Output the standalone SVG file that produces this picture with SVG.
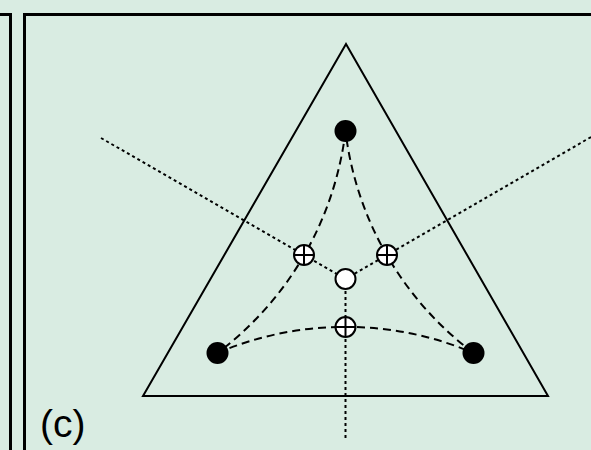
<svg xmlns="http://www.w3.org/2000/svg" width="591" height="450" viewBox="0 0 591 450">
<style>
.frame{fill:none;stroke:#000;stroke-width:3}
.tri{fill:none;stroke:#000;stroke-width:2;stroke-linejoin:miter}
.dot{fill:none;stroke:#000;stroke-width:2;stroke-dasharray:3 3}
.dash{fill:none;stroke:#000;stroke-width:2;stroke-dasharray:8 5}
.black{fill:#000}
.open{fill:#fff;stroke:#000;stroke-width:2}
.lbl{font-family:"Liberation Sans",Arial,sans-serif;font-size:39px;fill:#000}
</style>
<rect width="591" height="450" fill="#d9ece2"/>
<g id="frames">
<polyline class="frame" points="0,14.5 10.5,14.5 10.5,450"/>
<polyline class="frame" points="24.5,450 24.5,14.5 591,14.5"/>
</g>
<g id="triangle"><polygon class="tri" points="346,44 143,396 548,396"/></g>
<g id="connectors">
<line class="dot" x1="101" y1="138" x2="345.5" y2="279"/>
<line class="dot" x1="591" y1="137" x2="345.5" y2="279"/>
<line class="dot" x1="345.5" y1="279" x2="345.5" y2="438"/>
<path class="dash" d="M217.5,353 A326,326 0 0 1 473.5,353"/>
<path class="dash" d="M345.5,131 A326,326 0 0 1 217.5,353"/>
<path class="dash" d="M473.5,353 A326,326 0 0 1 345.5,131"/>
</g>
<g id="dot-top"><circle class="black" cx="345.5" cy="131" r="11"/></g>
<g id="dot-left"><circle class="black" cx="217.5" cy="353" r="11"/></g>
<g id="dot-right"><circle class="black" cx="473.5" cy="353" r="11"/></g>
<g id="center"><circle class="open" cx="345.5" cy="279" r="10"/></g>
<g id="cross-left"><circle class="open" cx="304" cy="255" r="10"/><path d="M294,255H314M304,245V265" stroke="#000" stroke-width="2"/></g>
<g id="cross-right"><circle class="open" cx="387" cy="255" r="10"/><path d="M377,255H397M387,245V265" stroke="#000" stroke-width="2"/></g>
<g id="cross-bottom"><circle class="open" cx="345.5" cy="327" r="10"/><path d="M335.5,327H355.5M345.5,317V337" stroke="#000" stroke-width="2"/></g>
<g id="label"><text class="lbl" x="40" y="437">(c)</text></g>
</svg>
